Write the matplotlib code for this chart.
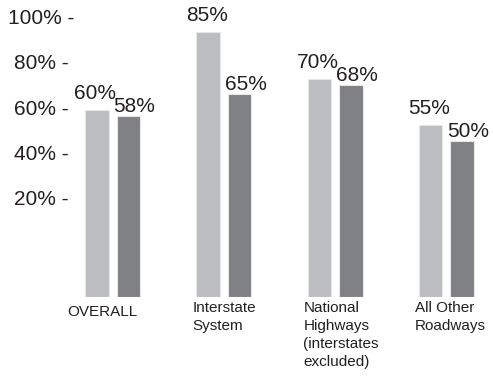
import matplotlib
matplotlib.use("Agg")
import matplotlib.pyplot as plt
import matplotlib.transforms as mtransforms
import numpy as np

categories = ["OVERALL", "Interstate\nSystem", "National\nHighways\n(interstates\nexcluded)", "All Other\nRoadways"]
series_a = [60, 85, 70, 55]
series_b = [58, 65, 68, 50]
tick_values = [20, 40, 60, 80, 100]
tick_labels = ["20% -", "40% -", "60% -", "80% -", "100% -"]

W, H = 493, 379
fig = plt.figure(figsize=(W / 100, H / 100), dpi=100)
plt.rcParams['font.family'] = ['Liberation Sans', 'DejaVu Sans']
TXT = "#231f20"
LIGHT = "#bcbdc0"
DARK = "#808184"

# bar axes: base at y=297px from top
base_px = 297
ax = fig.add_axes([0, (H - base_px) / H, 1, base_px / H])
px_per_unit_x = 111.3
x0_px = 112.5
ax.set_xlim(-x0_px / px_per_unit_x, 3 + (W - 446.5) / px_per_unit_x)
ax.set_ylim(0, base_px / 3.12)
ax.axis("off")

x = np.arange(len(categories))
bw = 23.5 / px_per_unit_x
off = (23.5 + 8) / 2 / px_per_unit_x
ba = ax.bar(x - off, series_a, width=bw, color=LIGHT, edgecolor="#e6e6e8", linewidth=0.8)
bb = ax.bar(x + off, series_b, width=bw, color=DARK, edgecolor="#e6e6e8", linewidth=0.8)

for xi, v in zip(x - off, series_a):
    ax.annotate(f"{v}%", (xi, v), xytext=(-1, 5), textcoords="offset points",
                ha="center", va="bottom", fontsize=15, color=TXT)
for xi, v in zip(x + off, series_b):
    ax.annotate(f"{v}%", (xi, v), xytext=(4.5, 0), textcoords="offset points",
                ha="center", va="bottom", fontsize=15, color=TXT)

# category labels
for i, lab in enumerate(categories):
    if i == 0:
        ax.annotate(lab, (x[i], 0), xytext=(-7.5, -6), textcoords="offset points",
                    ha="center", va="top", fontsize=11, color=TXT)
    else:
        ax.annotate(lab, (x[i] - off - bw / 2, 0), xytext=(-3, -3), textcoords="offset points",
                    ha="left", va="top", fontsize=11, color=TXT, linespacing=1.35)

# y tick labels on their own scale (0% at 243px, 2.265 px per %)
zero_px = 243
ax2 = fig.add_axes([0, (H - zero_px) / H, 1, zero_px / H])
ax2.set_ylim(0, zero_px / 2.265)
ax2.set_xlim(0, 1)
ax2.axis("off")
trans = mtransforms.blended_transform_factory(ax2.transAxes, ax2.transData)
for v, lab in zip(tick_values, tick_labels):
    ax2.text(41.5 / W, v, lab, transform=trans, ha="center", va="center_baseline",
             fontsize=15, color=TXT)

fig.savefig("out.png", dpi=100)
